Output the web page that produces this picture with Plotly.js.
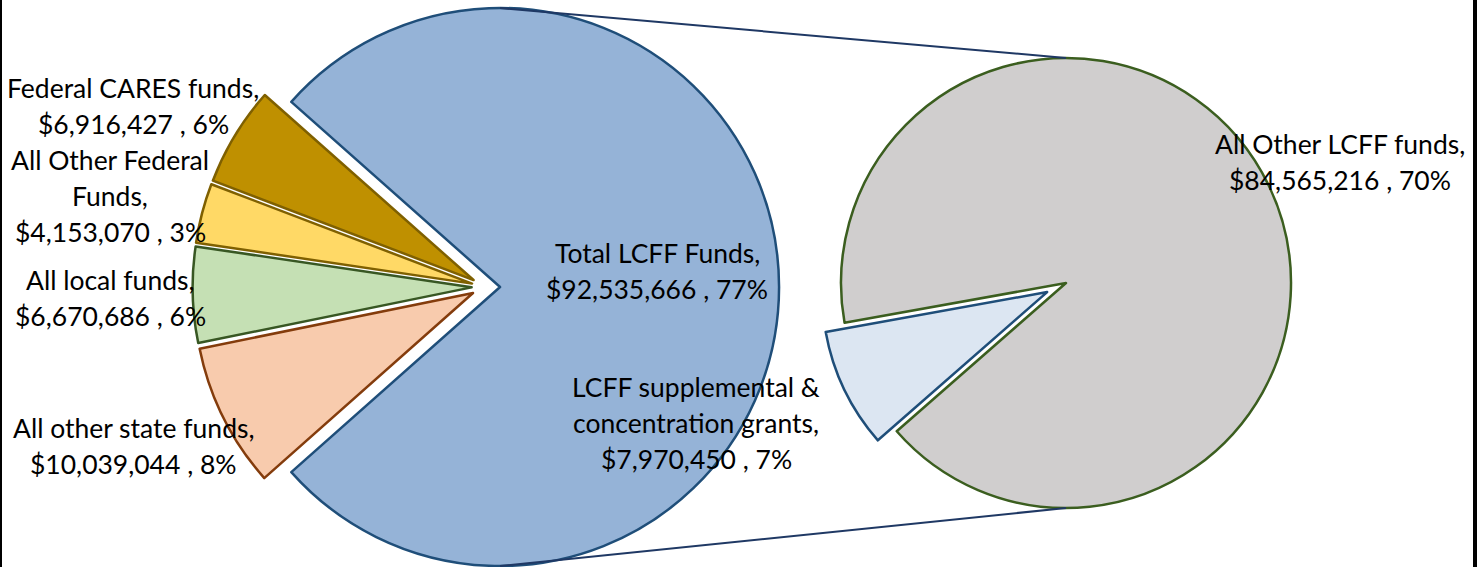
<!DOCTYPE html>
<html>
<head>
<meta charset="utf-8">
<script src="https://cdn.plot.ly/plotly-3.0.1.min.js"></script>
<style>
  html, body { margin: 0; padding: 0; overflow: hidden; background: #fff; width: 1481px; height: 567px; }
  #chart { position: absolute; left: 0; top: -26px; width: 1481px; height: 620px; }
</style>
</head>
<body>
<div id="chart"></div>
<script>
// ---------- DATA ----------
const mainLabels = ["Total LCFF Funds,", "All other state funds,", "All local funds,", "All Other Federal<br>Funds,", "Federal CARES funds,"];
const mainValues = [92535666, 10039044, 6670686, 4153070, 6916427];
const subLabels = ["All Other LCFF funds,", "LCFF supplemental &<br>concentration grants,"];
const subValues = [84565216, 7970450];

// ---------- STYLE ----------
const mainFill = ["#95B3D7", "#F8CBAD", "#C5E0B4", "#FFD966", "#BF9000"];
const mainLine = ["#1F4E79", "#843C0C", "#385723", "#7F6000", "#7F6000"];
const subFill = ["#D0CECE", "#DCE6F2"];
const subLine = ["#3B5E1F", "#1F4E79"];
const mainPull = [0.054, 0.048, 0.048, 0.048, 0.048];
const subPull = [0, 0.093];

// layout geometry (screen pixels)
const W = 1481, H = 620, OFF = 26;
const leftPie = { cx: 485, cy: 287, r: 279 };
const rightPie = { cx: 1066, cy: 283, r: 225 };
// label positions (screen px): [x centre, y of first line]
const mainLabelPos = [[657, 253], [133, 428], [110, 280], [110, 160], [133, 88]];
const subLabelPos = [[1340, 144], [696, 387]];
const LINE_GAP = 36;
const FONT = { family: "Lato, 'Open Sans', sans-serif", size: 26.5, color: "#000" };

const px = x => x / W;
const py = y => 1 - (y + OFF) / H;

function domainFor(p, maxPull) {
  const s = p.r * (2 + 2 * maxPull);
  const top = p.cy + OFF - s / 2, bottom = p.cy + OFF + s / 2;
  return { x: [(p.cx - s / 2) / W, (p.cx + s / 2) / W], y: [1 - bottom / H, 1 - top / H] };
}

const total = mainValues.reduce((a, b) => a + b, 0);
const fmt = v => "$" + v.toLocaleString("en-US") + " , " + Math.round(v / total * 100) + "%";

const smallShare = 1 - mainValues[0] / total;
const leftRotation = 270 + smallShare * 180;

const traces = [
  {
    type: "pie", values: mainValues, labels: mainLabels.map(l => l.replace("<br>", " ")),
    sort: false, direction: "clockwise", rotation: leftRotation,
    pull: mainPull, textinfo: "none", hoverinfo: "label+value+percent",
    marker: { colors: mainFill, line: { color: mainLine, width: 2.5 } },
    domain: domainFor(leftPie, Math.max(...mainPull)), showlegend: false
  },
  {
    type: "pie", values: subValues, labels: subLabels.map(l => l.replace("<br>", " ")),
    sort: false, direction: "clockwise", rotation: 259.8,
    pull: subPull, textinfo: "none", hoverinfo: "label+value",
    marker: { colors: subFill, line: { color: subLine, width: 2.5 } },
    domain: domainFor(rightPie, Math.max(...subPull)), showlegend: false
  }
];

const annotations = [];
function addLabel(name, value, pos) {
  const lines = name.split("<br>").concat([fmt(value)]);
  lines.forEach((t, i) => {
    annotations.push({
      xref: "paper", yref: "paper", x: px(pos[0]), y: py(pos[1] + i * LINE_GAP),
      xanchor: "center", yanchor: "middle", text: t, showarrow: false, font: FONT
    });
  });
}
mainLabels.forEach((n, i) => addLabel(n, mainValues[i], mainLabelPos[i]));
subLabels.forEach((n, i) => addLabel(n, subValues[i], subLabelPos[i]));

// connector lines between the combined slice and the secondary pie
const blueCx = leftPie.cx + mainPull[0] * leftPie.r;
const shapes = [
  { type: "line", xref: "paper", yref: "paper",
    x0: px(blueCx), y0: py(leftPie.cy - leftPie.r), x1: px(rightPie.cx), y1: py(rightPie.cy - rightPie.r),
    line: { color: "#1F3864", width: 2 } },
  { type: "line", xref: "paper", yref: "paper",
    x0: px(blueCx), y0: py(leftPie.cy + leftPie.r), x1: px(rightPie.cx), y1: py(rightPie.cy + rightPie.r),
    line: { color: "#1F3864", width: 2 } },
  // chart frame edges
  { type: "line", xref: "paper", yref: "paper", x0: px(1), x1: px(1), y0: py(0), y1: py(567),
    line: { color: "#000", width: 2 } },
  { type: "line", xref: "paper", yref: "paper", x0: px(1475), x1: px(1475), y0: py(0), y1: py(567),
    line: { color: "#000", width: 4 } }
];

const layout = {
  width: W, height: H,
  margin: { l: 0, r: 0, t: 0, b: 0 },
  paper_bgcolor: "#fff", plot_bgcolor: "#fff",
  showlegend: false,
  annotations: annotations,
  shapes: shapes
};

Plotly.newPlot("chart", traces, layout, { displayModeBar: false, staticPlot: true });
</script>
</body>
</html>
